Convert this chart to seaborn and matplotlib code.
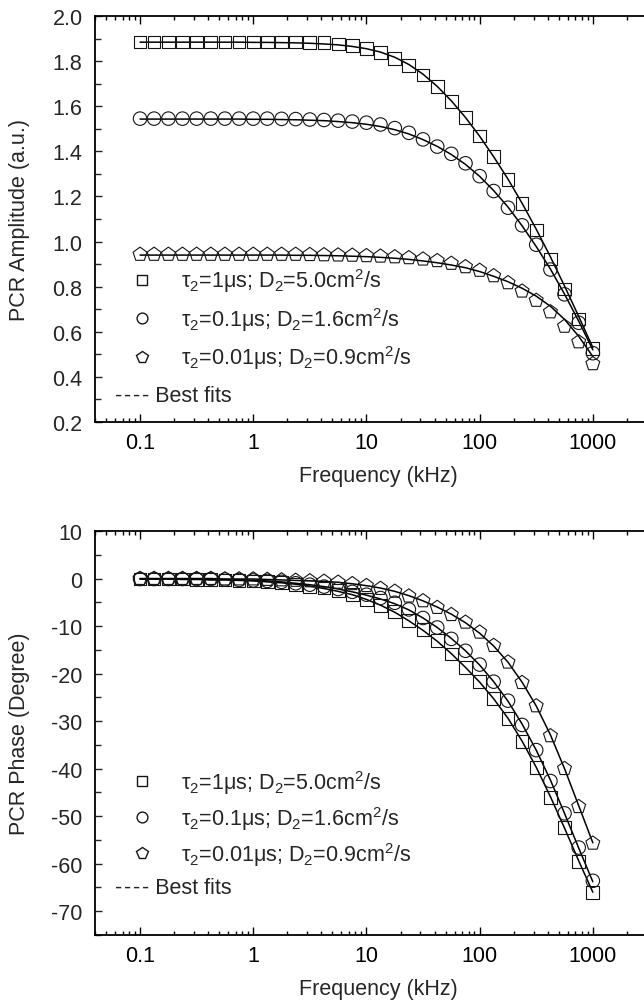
import numpy as np
import pandas as pd
import matplotlib
matplotlib.use("Agg")
import matplotlib.pyplot as plt
import seaborn as sns
from matplotlib.lines import Line2D
from matplotlib.ticker import FixedLocator, FixedFormatter, LogLocator, NullFormatter, MultipleLocator, FormatStrFormatter

# ---------------- data ----------------
freq_khz = [0.1, 0.133, 0.178, 0.237, 0.316, 0.422, 0.562, 0.750,
            1.0, 1.33, 1.78, 2.37, 3.16, 4.22, 5.62, 7.50,
            10, 13.3, 17.8, 23.7, 31.6, 42.2, 56.2, 75.0,
            100, 133, 178, 237, 316, 422, 562, 750, 1000]

amp_sq = [1.885, 1.885, 1.885, 1.885, 1.885, 1.885, 1.885, 1.885, 1.885, 1.885, 1.885, 1.885,
          1.884, 1.881, 1.876, 1.868, 1.856, 1.837, 1.812, 1.779, 1.738, 1.686, 1.621, 1.551,
          1.468, 1.376, 1.276, 1.170, 1.051, 0.923, 0.790, 0.657, 0.525]
amp_ci = [1.545, 1.545, 1.545, 1.545, 1.545, 1.545, 1.545, 1.545, 1.545, 1.545, 1.544, 1.543,
          1.541, 1.539, 1.536, 1.532, 1.527, 1.519, 1.503, 1.482, 1.453, 1.421, 1.389, 1.347,
          1.290, 1.224, 1.150, 1.072, 0.986, 0.876, 0.766, 0.640, 0.505]
amp_pe = [0.943, 0.943, 0.943, 0.943, 0.943, 0.943, 0.943, 0.943, 0.943, 0.943, 0.943, 0.943,
          0.942, 0.941, 0.940, 0.939, 0.937, 0.935, 0.932, 0.928, 0.922, 0.915, 0.903, 0.888,
          0.872, 0.848, 0.817, 0.780, 0.739, 0.688, 0.624, 0.555, 0.458]

fit_amp_sq = [1.884, 1.884, 1.884, 1.884, 1.884, 1.884, 1.884, 1.884, 1.883, 1.883, 1.882, 1.881,
              1.879, 1.876, 1.872, 1.865, 1.855, 1.840, 1.817, 1.785, 1.742, 1.688, 1.624, 1.550,
              1.467, 1.376, 1.277, 1.170, 1.055, 0.932, 0.803, 0.668, 0.530]
fit_amp_ci = [1.543, 1.543, 1.543, 1.543, 1.543, 1.543, 1.543, 1.543, 1.542, 1.542, 1.541, 1.540,
              1.538, 1.536, 1.532, 1.527, 1.520, 1.510, 1.496, 1.477, 1.452, 1.422, 1.386, 1.342,
              1.289, 1.226, 1.153, 1.070, 0.978, 0.878, 0.767, 0.647, 0.520]
fit_amp_pe = [0.940, 0.940, 0.940, 0.940, 0.940, 0.940, 0.940, 0.940, 0.940, 0.940, 0.940, 0.939,
              0.939, 0.938, 0.937, 0.935, 0.933, 0.930, 0.926, 0.921, 0.914, 0.906, 0.896, 0.884,
              0.867, 0.846, 0.822, 0.793, 0.758, 0.713, 0.655, 0.580, 0.490]

ph_sq = [-0.1, -0.1, -0.1, -0.1, -0.2, -0.2, -0.3, -0.4, -0.5, -0.7, -0.9, -1.2, -1.6, -2.0, -2.6, -3.3,
         -4.4, -5.6, -7.0, -8.8, -10.8, -13.1, -15.9, -18.7, -21.7, -25.2, -29.4, -34.3, -39.8, -46.0,
         -52.4, -59.5, -66.0]
ph_ci = [-0.1, -0.1, -0.1, -0.1, -0.1, -0.1, -0.2, -0.3, -0.4, -0.5, -0.7, -1.0, -1.3, -1.7, -2.2, -2.8,
         -3.4, -4.1, -5.1, -6.5, -8.3, -10.3, -12.7, -15.2, -18.1, -21.7, -25.7, -30.8, -36.1, -42.6,
         -49.4, -56.6, -63.6]
ph_pe = [0.0, 0.0, 0.0, 0.0, 0.0, 0.0, -0.1, -0.1, -0.1, -0.2, -0.3, -0.4, -0.5, -0.6, -0.8, -1.1,
         -1.5, -2.1, -2.7, -3.7, -4.7, -6.1, -7.6, -9.2, -11.3, -14.1, -17.6, -21.9, -26.8, -33.1,
         -40.0, -48.0, -55.7]

fit_ph_sq = [-0.1, -0.1, -0.1, -0.2, -0.2, -0.3, -0.3, -0.4, -0.5, -0.7, -0.9, -1.2, -1.6, -2.1, -2.7, -3.4,
             -4.4, -5.6, -7.1, -8.9, -10.9, -13.2, -15.8, -18.7, -21.8, -25.3, -29.4, -34.2, -39.7, -45.9,
             -52.5, -59.4, -66.0]
fit_ph_ci = [-0.1, -0.1, -0.1, -0.1, -0.1, -0.2, -0.2, -0.3, -0.4, -0.5, -0.7, -1.0, -1.3, -1.7, -2.2, -2.8,
             -3.5, -4.3, -5.3, -6.6, -8.3, -10.3, -12.6, -15.2, -18.2, -21.7, -25.8, -30.6, -36.1, -42.4,
             -49.4, -56.7, -63.8]
fit_ph_pe = [0.0, 0.0, 0.0, 0.0, 0.0, 0.0, -0.1, -0.1, -0.1, -0.2, -0.3, -0.4, -0.5, -0.6, -0.8, -1.1,
             -1.5, -2.0, -2.7, -3.6, -4.7, -6.0, -7.5, -9.3, -11.5, -14.2, -17.6, -21.8, -26.8, -32.9,
             -40.0, -47.8, -55.6]

series_labels = [r"τ$_2$=1μs; D$_2$=5.0cm$^2$/s",
                 r"τ$_2$=0.1μs; D$_2$=1.6cm$^2$/s",
                 r"τ$_2$=0.01μs; D$_2$=0.9cm$^2$/s"]
fit_label = "-\u200a-\u200a-\u200a- Best fits"
xtick_vals = [0.1, 1, 10, 100, 1000]
xtick_labels = ["0.1", "1", "10", "100", "1000"]

# ---------------- style ----------------
sns.set_style("ticks")
plt.rcParams["font.family"] = ["Liberation Sans", "DejaVu Sans"]
plt.rcParams["mathtext.fontset"] = "custom"
plt.rcParams["mathtext.rm"] = "Liberation Sans"
plt.rcParams["mathtext.it"] = "Liberation Sans:italic"
plt.rcParams["mathtext.bf"] = "Liberation Sans:bold"
plt.rcParams["axes.unicode_minus"] = False

FS = 15.5
markers = ["s", "o", "p"]
msizes = [9.2, 9.7, 10.5]
ecol = "#151515"

fig = plt.figure(figsize=(6.44, 10.03), dpi=100)
ax1 = fig.add_axes([95 / 644, 1 - 423 / 1003, 566 / 644, 406 / 1003])
ax2 = fig.add_axes([95 / 644, 1 - 936 / 1003, 566 / 644, 404 / 1003])

def draw(ax, data_lists, fit_lists):
    for fit in fit_lists:
        sns.lineplot(x=freq_khz, y=fit, color="black", linewidth=1.1, ax=ax, zorder=2)
    for vals, mk, ms in zip(data_lists, markers, msizes):
        sns.scatterplot(x=freq_khz, y=vals, marker=mk, s=ms ** 2, facecolor="none",
                        edgecolor=ecol, linewidth=0.8, ax=ax, zorder=3)

draw(ax1, [amp_sq, amp_ci, amp_pe], [fit_amp_sq, fit_amp_ci, fit_amp_pe])
draw(ax2, [ph_sq, ph_ci, ph_pe], [fit_ph_sq, fit_ph_ci, fit_ph_pe])

for ax in (ax1, ax2):
    ax.set_xscale("log")
    ax.set_xlim(0.04, 4000)
    ax.xaxis.set_major_locator(FixedLocator(xtick_vals))
    ax.xaxis.set_major_formatter(FixedFormatter(xtick_labels))
    ax.xaxis.set_minor_locator(LogLocator(base=10, subs=np.arange(2, 10)))
    ax.xaxis.set_minor_formatter(NullFormatter())
    ax.tick_params(axis="x", which="both", direction="in", top=True, bottom=True,
                   labelsize=FS, pad=7.5, width=1.0, colors="black")
    ax.tick_params(axis="x", which="major", length=5.5)
    ax.tick_params(axis="x", which="minor", length=3)
    ax.tick_params(axis="y", which="both", direction="in", left=True, right=False,
                   labelsize=FS, pad=9, width=1.0)
    ax.tick_params(axis="y", which="major", length=5)
    ax.tick_params(axis="y", which="minor", length=4.5)
    for side in ("left", "bottom", "top"):
        ax.spines[side].set_linewidth(1.3)
        ax.spines[side].set_color("black")
    ax.spines["right"].set_visible(False)
    ax.set_xlabel("Frequency (kHz)", fontsize=FS, labelpad=8.5)
    ax.yaxis.set_label_coords(-0.114, 0.5)

ax1.set_ylim(0.2, 2.0)
ax1.yaxis.set_major_locator(MultipleLocator(0.2))
ax1.yaxis.set_minor_locator(MultipleLocator(0.1))
ax1.yaxis.set_major_formatter(FormatStrFormatter("%.1f"))
ax1.set_ylabel("PCR Amplitude (a.u.)", fontsize=FS)

ax2.set_ylim(-75, 10)
ax2.yaxis.set_major_locator(MultipleLocator(10))
ax2.yaxis.set_minor_locator(MultipleLocator(5))
ax2.set_ylabel("PCR Phase (Degree)", fontsize=FS)

def add_legend(ax, anchor_y, spacing, best_y):
    handles = [Line2D([], [], linestyle="none", marker=mk, markersize=ms * 0.8,
                      markerfacecolor="none", markeredgecolor=ecol, markeredgewidth=1.0)
               for mk, ms in zip(markers, msizes)]
    ax.legend(handles, series_labels, loc="upper left", bbox_to_anchor=(36 / 566, anchor_y),
              frameon=False, fontsize=FS, handlelength=1.0, handletextpad=1.3,
              labelspacing=spacing, borderaxespad=0, borderpad=0)
    ax.text(20 / 566, best_y, fit_label, transform=ax.transAxes, fontsize=FS,
            ha="left", va="center")

add_legend(ax1, 1 - (267.5 - 17) / 406, 0.49, 1 - (396.7 - 17) / 406)
add_legend(ax2, 1 - (769 - 532) / 404, 0.37, 1 - (888.3 - 532) / 404)

fig.savefig("out.png", dpi=100)
